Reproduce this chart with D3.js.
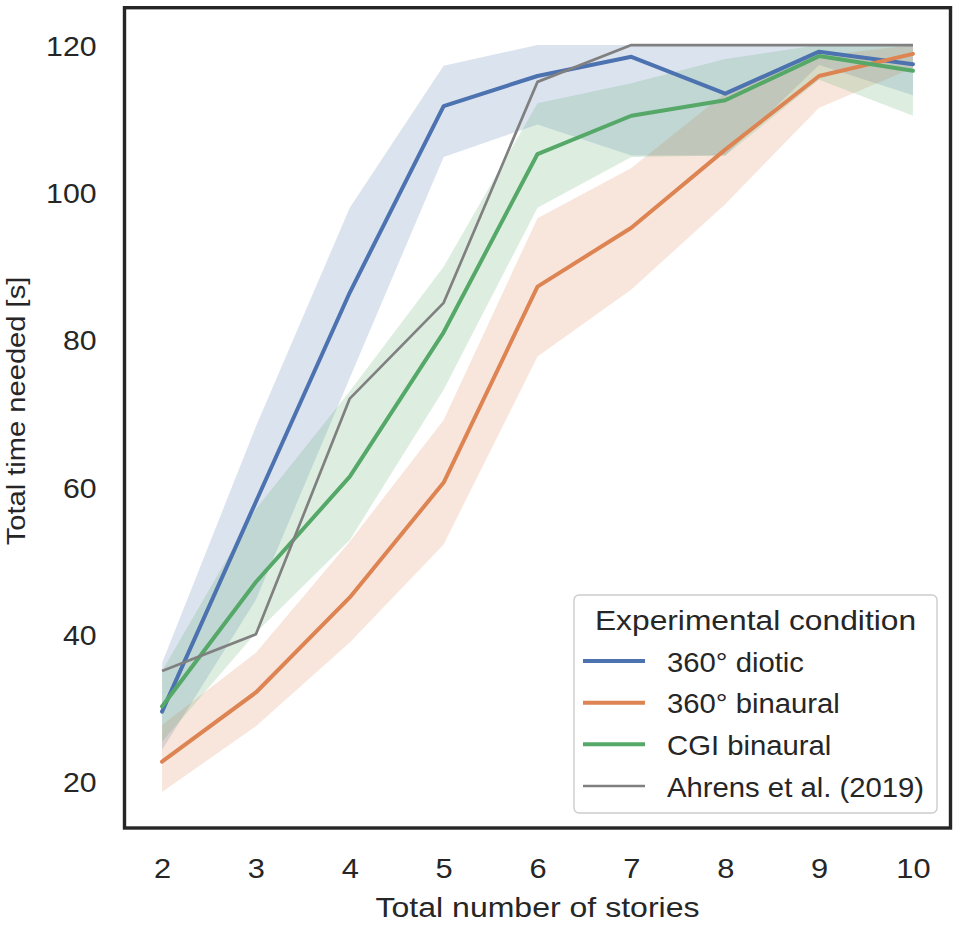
<!DOCTYPE html>
<html>
<head>
<meta charset="utf-8">
<script src="https://cdn.jsdelivr.net/npm/d3@7.9.0/dist/d3.min.js"></script>
<style>
  html, body { margin: 0; padding: 0; background: #fff; }
  svg { display: block; font-family: "Liberation Sans", Arial, sans-serif; }
</style>
</head>
<body>
<div id="chart"></div>
<script>
// values
const stories = [2, 3, 4, 5, 6, 7, 8, 9, 10];

const dioticMean = [29.5, 58, 86.4, 111.7, 115.8, 118.4, 113.4, 119.1, 117.4];
const dioticLo   = [24.3, 44.7, 74.8, 104.8, 109.2, 105, 105, 117.3, 113.2];
const dioticHi   = [36.1, 68.2, 97.9, 117.2, 120, 120, 120, 120, 120];

const binauralMean = [22.7, 32.1, 45, 60.6, 87.2, 95.2, 105.8, 115.8, 118.8];
const binauralLo   = [18.6, 27.5, 38.9, 52.2, 77.7, 86.8, 98.4, 111.5, 116.9];
const binauralHi   = [27.7, 37.5, 52.6, 69.1, 96.5, 103.3, 113.5, 118.5, 120];

const cgiMean = [30.2, 47.1, 61.4, 81, 105.2, 110.4, 112.5, 118.5, 116.5];
const cgiLo   = [25.4, 40.2, 52.8, 73.2, 97.9, 104.8, 105, 115.3, 110.4];
const cgiHi   = [35, 57, 73, 89.9, 112.1, 114.8, 118.1, 120, 120];

const ahrens = [35, 40, 72, 85, 115, 120, 120, 120, 120];

const yTicks = [20, 40, 60, 80, 100, 120];
const legendTitle = 'Experimental condition';
const labels = ['360° diotic', '360° binaural', 'CGI binaural', 'Ahrens et al. (2019)'];

const series = [
  { name: labels[0], mean: dioticMean, lo: dioticLo, hi: dioticHi, color: '#4c72b0' },
  { name: labels[1], mean: binauralMean, lo: binauralLo, hi: binauralHi, color: '#dd8452' },
  { name: labels[2], mean: cgiMean, lo: cgiLo, hi: cgiHi, color: '#55a868' },
];
const refColor = '#808080';
const textColor = '#262626';
const SX = 1.12; // glyphs in the picture are a bit wider than Arial

const width = 959;
const height = 925;
const area = { left: 124.5, right: 950.5, top: 7.7, bottom: 828 };

const svg = d3.select('#chart')
  .append('svg')
  .attr('width', width)
  .attr('height', height);

const x = d3.scaleLinear().domain([1.6, 10.4]).range([area.left, area.right]);
const y = d3.scaleLinear().domain([13.7, 125.07]).range([area.bottom, area.top]);

svg.append('clipPath').attr('id', 'plot-clip')
  .append('rect')
  .attr('x', area.left).attr('y', area.top)
  .attr('width', area.right - area.left).attr('height', area.bottom - area.top);

const plot = svg.append('g').attr('clip-path', 'url(#plot-clip)');

const band = d3.area()
  .x((d, i) => x(stories[i]))
  .y0((d) => y(d[0]))
  .y1((d) => y(d[1]));

const line = d3.line()
  .x((d, i) => x(stories[i]))
  .y((d) => y(d));

// confidence bands under every line
series.forEach((s) => {
  plot.append('path')
    .datum(s.lo.map((v, i) => [v, s.hi[i]]))
    .attr('d', band)
    .attr('fill', s.color)
    .attr('fill-opacity', 0.2);
});

series.forEach((s) => {
  plot.append('path')
    .datum(s.mean)
    .attr('d', line)
    .attr('fill', 'none')
    .attr('stroke', s.color)
    .attr('stroke-width', 4)
    .attr('stroke-linecap', 'round')
    .attr('stroke-linejoin', 'round');
});

plot.append('path')
  .datum(ahrens)
  .attr('d', line)
  .attr('fill', 'none')
  .attr('stroke', refColor)
  .attr('stroke-width', 2.7)
  .attr('stroke-linejoin', 'round');

// axes (no tick marks, seaborn white style)
const xAxis = svg.append('g')
  .attr('transform', `translate(0, ${area.bottom})`)
  .call(d3.axisBottom(x).tickValues(stories).tickSize(0).tickPadding(30).tickFormat(d3.format('d')));

const yAxis = svg.append('g')
  .attr('transform', `translate(${area.left}, 0)`)
  .call(d3.axisLeft(y).tickValues(yTicks).tickSize(0).tickPadding(28));

[xAxis, yAxis].forEach((g) => {
  g.select('.domain').remove();
  g.selectAll('text')
    .attr('fill', textColor)
    .style('font-size', '28px')
    .style('font-family', '"Liberation Sans", Arial, sans-serif');
});
xAxis.selectAll('text').attr('dy', 0).attr('y', 50).attr('x', 0)
  .attr('transform', 'scale(1.1,1)');
yAxis.selectAll('text').attr('dy', '0.36em').attr('x', -28 / 1.08)
  .attr('transform', 'scale(1.08,1)');

function addText(px, py, str, opts = {}) {
  const rot = opts.rotate ? ` rotate(${opts.rotate})` : '';
  return svg.append('text')
    .attr('transform', `translate(${px},${py})${rot} scale(${opts.sx || SX},1)`)
    .attr('text-anchor', opts.anchor || 'start')
    .attr('fill', textColor)
    .style('font-size', (opts.size || 27.5) + 'px')
    .text(str);
}

addText((area.left + area.right) / 2, 917, 'Total number of stories', { anchor: 'middle', sx: 1.165 });
addText(25, 411, 'Total time needed [s]', { anchor: 'middle', rotate: -90, size: 26, sx: 1.12 });

// frame
svg.append('rect')
  .attr('x', area.left).attr('y', area.top)
  .attr('width', area.right - area.left).attr('height', area.bottom - area.top)
  .attr('fill', 'none')
  .attr('stroke', textColor)
  .attr('stroke-width', 3.4);

// legend
const legend = svg.append('g');
legend.append('rect')
  .attr('x', 574).attr('y', 595)
  .attr('width', 363).attr('height', 218)
  .attr('rx', 5)
  .attr('fill', '#fff').attr('fill-opacity', 0.8)
  .attr('stroke', '#cccccc').attr('stroke-width', 1.4);

addText(755.5, 630, legendTitle, { anchor: 'middle', sx: 1.155 });

const legendRows = [
  { name: labels[0], color: series[0].color, w: 4 },
  { name: labels[1], color: series[1].color, w: 4 },
  { name: labels[2], color: series[2].color, w: 4 },
  { name: labels[3], color: refColor, w: 2.7 },
];
const rowY = d3.scalePoint().domain(legendRows.map((d) => d.name)).range([661, 786]);

legendRows.forEach((r) => {
  legend.append('line')
    .attr('x1', 583).attr('x2', 645)
    .attr('y1', rowY(r.name)).attr('y2', rowY(r.name))
    .attr('stroke', r.color)
    .attr('stroke-width', r.w);
  addText(667, rowY(r.name) + 10.5, r.name, { sx: 1.065 });
});
</script>
</body>
</html>
